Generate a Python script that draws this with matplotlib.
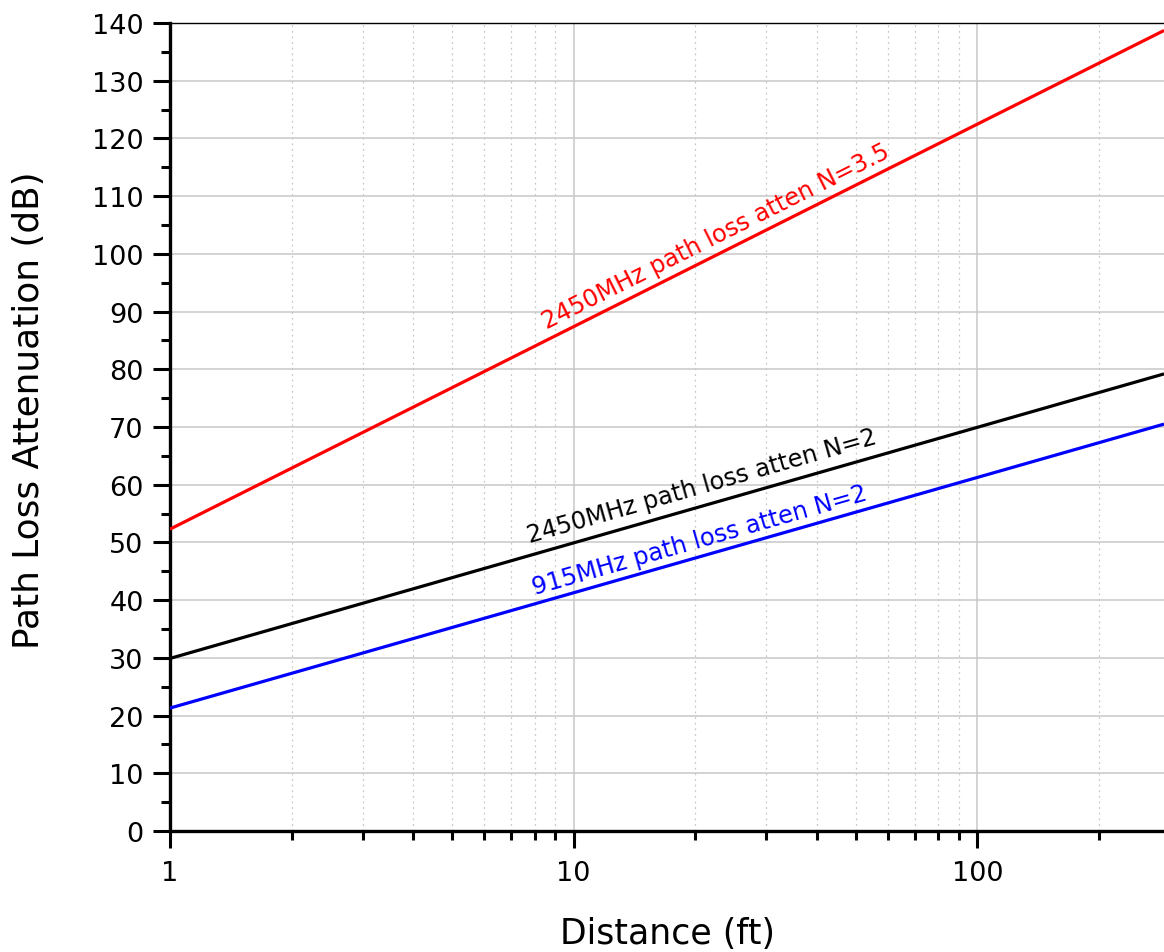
import numpy as np
import matplotlib
matplotlib.use("Agg")
import matplotlib.pyplot as plt
from matplotlib import ticker

# values (straight lines on a log-x axis)
distance_ft = [1, 290]
loss_2450_n35 = [52.3, 138.7]
loss_2450_n2 = [29.9, 79.2]
loss_915_n2 = [21.3, 70.5]

series_labels = [
    "2450MHz path loss atten N=3.5",
    "2450MHz path loss atten N=2",
    "915MHz path loss atten N=2",
]
label_anchor_x = [8.6, 7.8, 8.0]
label_anchor_y = [87.0, 50.1, 41.1]

x_ticks = [1, 10, 100]
y_ticks = list(range(0, 141, 10))

plt.rcParams["font.family"] = ["DejaVu Sans"]

W, H = 1164, 953
fig = plt.figure(figsize=(W / 100, H / 100), dpi=100)
ax = fig.add_axes([170 / W, 1 - 832 / H, (W - 170) / W, (832 - 24) / H])

ax.set_xscale("log")
ax.set_xlim(1, 290)
ax.set_ylim(0, 140)

colors = ["#ff0000", "#000000", "#0000ff"]
series = [loss_2450_n35, loss_2450_n2, loss_915_n2]
for ys, c in zip(series, colors):
    ax.plot(distance_ft, ys, color=c, linewidth=2.3, solid_capstyle="butt", zorder=3)

# grid
ax.grid(True, which="major", color="#c8c8c8", linewidth=1.1, linestyle="-")
ax.grid(True, which="minor", axis="x", color="#c8c8c8", linewidth=0.9, linestyle=(0, (1.5, 3)))
ax.set_axisbelow(True)

# ticks
ax.set_xticks(x_ticks)
ax.xaxis.set_major_formatter(ticker.FuncFormatter(lambda v, p: f"{v:g}"))
ax.xaxis.set_minor_locator(ticker.LogLocator(base=10, subs=np.arange(2, 10)))
ax.xaxis.set_minor_formatter(ticker.NullFormatter())
ax.set_yticks(y_ticks)
ax.yaxis.set_minor_locator(ticker.MultipleLocator(5))

ax.tick_params(which="major", direction="out", length=12, width=2.2, labelsize=19.5, pad=7)
ax.tick_params(which="minor", direction="out", length=6.5, width=2.2)
ax.tick_params(axis="x", which="major", pad=9)

for side in ["left", "bottom"]:
    ax.spines[side].set_linewidth(2.4)
ax.spines["top"].set_linewidth(1.0)
ax.spines["right"].set_visible(False)

# axis titles
fig.text(668 / W, 1 - 934 / H, "Distance (ft)", fontsize=25, ha="center", va="center")
fig.text(29 / W, 1 - 410 / H, "Path Loss Attenuation (dB)", fontsize=25.8,
         ha="center", va="center", rotation=90)

# labels along the lines, rotated to the on-screen slope
fig.canvas.draw()
for ys, c, txt, tx, ty in zip(series, colors, series_labels, label_anchor_x, label_anchor_y):
    p0 = ax.transData.transform((distance_ft[0], ys[0]))
    p1 = ax.transData.transform((distance_ft[1], ys[1]))
    ang = np.degrees(np.arctan2(p1[1] - p0[1], p1[0] - p0[0]))
    ax.text(tx, ty, txt, color=c, fontsize=17.4, rotation=ang, rotation_mode="anchor",
            ha="left", va="baseline", zorder=4)

fig.savefig("out.png", dpi=100)
